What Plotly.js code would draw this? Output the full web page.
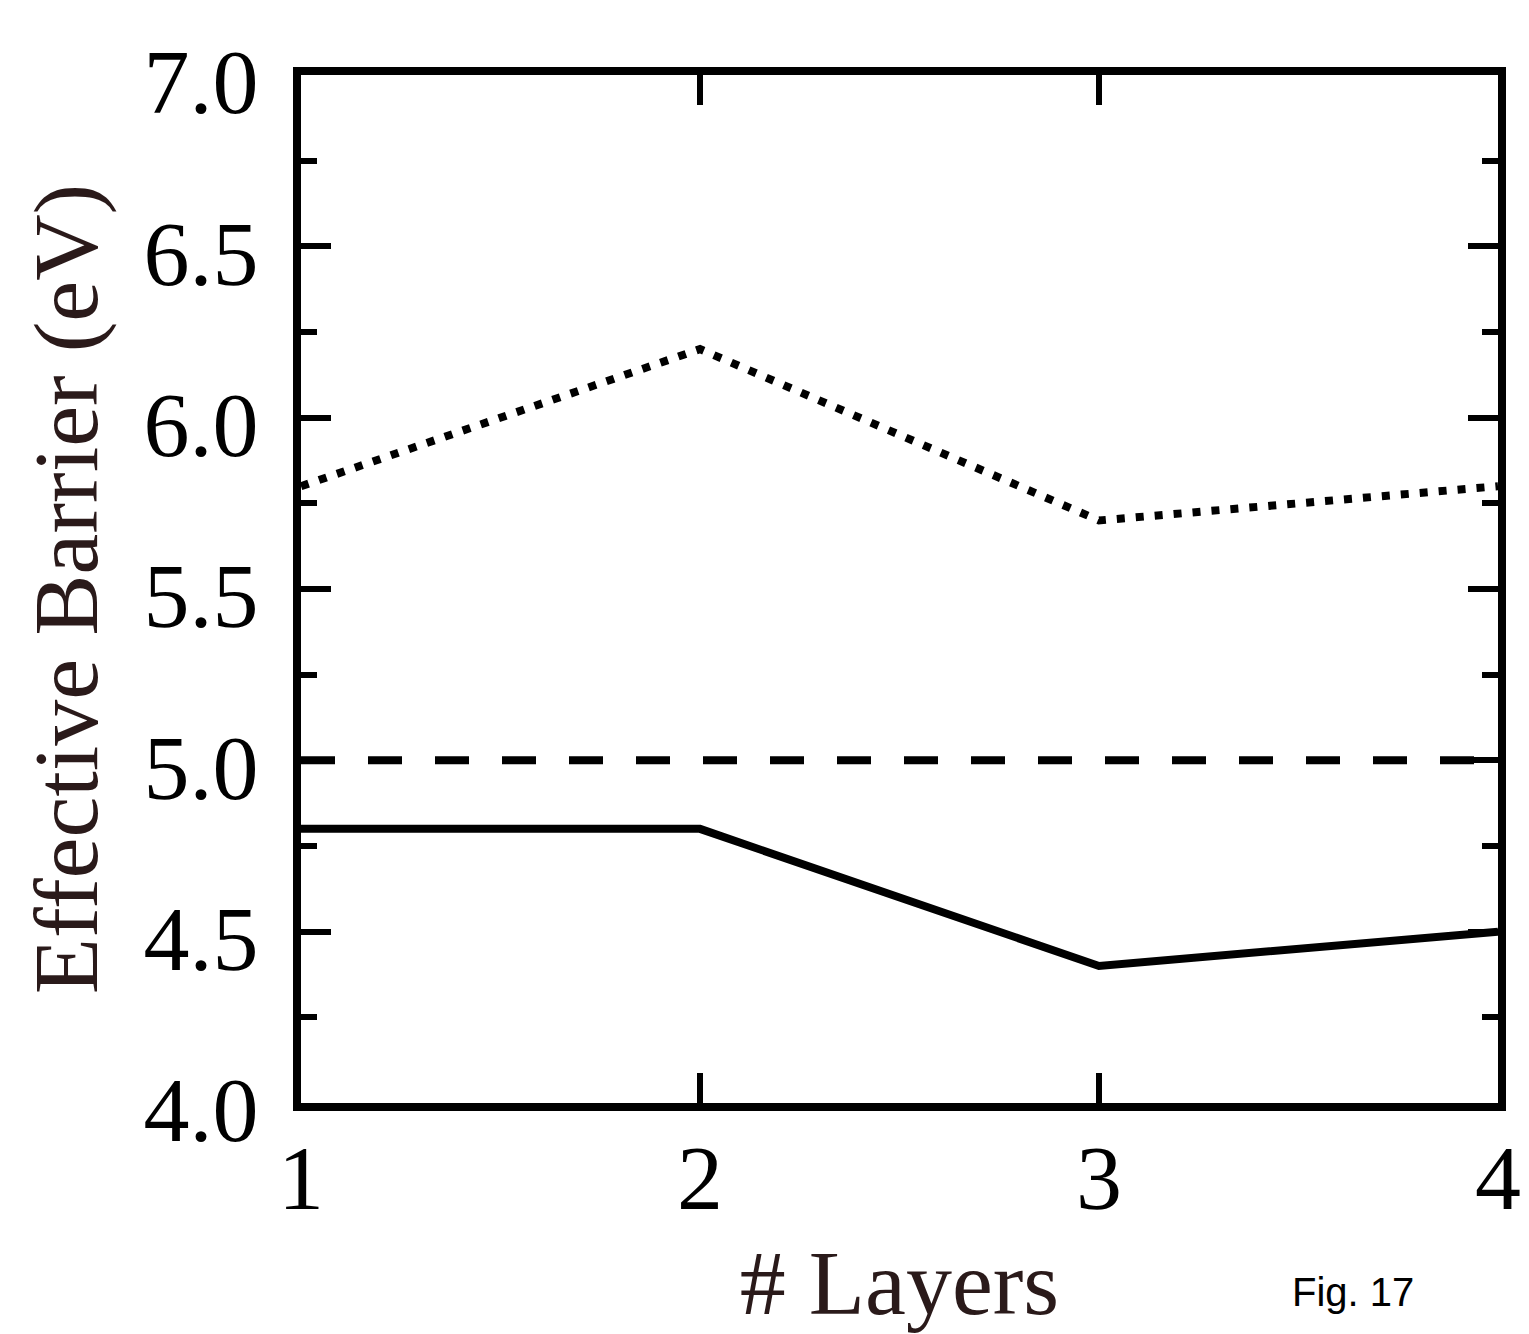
<!DOCTYPE html>
<html>
<head>
<meta charset="utf-8">
<script src="https://cdn.plot.ly/plotly-3.0.1.min.js"></script>
<style>html,body{margin:0;padding:0;background:#fff;}#chart{width:1529px;height:1334px;}</style>
</head>
<body>
<div id="chart"></div>
<script>
const layers = [1, 2, 3, 4];
const dottedValues = [5.8, 6.2, 5.7, 5.8];
const dashedValues = [5.0, 5.0, 5.0, 5.0];
const solidValues = [4.8, 4.8, 4.4, 4.5];
const yTickVals = [4.0, 4.5, 5.0, 5.5, 6.0, 6.5, 7.0];
const yTickText = ['4.0', '4.5', '5.0', '5.5', '6.0', '6.5', '7.0'];
const xTickVals = [1, 2, 3, 4];

const traces = [
  {x: layers, y: dottedValues, mode: 'lines', line: {color: '#000', width: 8, dash: '8px,11px'}, hoverinfo: 'skip'},
  {x: layers, y: dashedValues, mode: 'lines', line: {color: '#000', width: 8, dash: '34px,33px'}, hoverinfo: 'skip'},
  {x: layers, y: solidValues, mode: 'lines', line: {color: '#000', width: 8}, hoverinfo: 'skip'}
];

const serif = 'Liberation Serif, Times New Roman, serif';
const tickFont = {family: serif, size: 92, color: '#000'};
const M = {l: 301, r: 31, t: 75, b: 231};

const layout = {
  width: 1529, height: 1334,
  showlegend: false,
  paper_bgcolor: '#fff', plot_bgcolor: '#fff',
  margin: {l: M.l, r: M.r, t: M.t, b: M.b, pad: 0},
  xaxis: {
    range: [1, 4], tickvals: xTickVals, ticktext: xTickVals.map(String),
    ticks: 'inside', ticklen: 30, tickwidth: 6, tickcolor: '#000',
    showline: true, linewidth: 8, linecolor: '#000', mirror: 'ticks',
    showgrid: false, zeroline: false, tickfont: tickFont, ticklabelstandoff: -12,
    title: {text: '# Layers', font: {family: serif, size: 92, color: '#2a1a1a'}, standoff: 26}
  },
  yaxis: {
    range: [4, 7], tickvals: yTickVals, ticktext: yTickText,
    ticks: 'inside', ticklen: 30, tickwidth: 6, tickcolor: '#000',
    minor: {dtick: 0.25, ticks: 'inside', ticklen: 16, tickwidth: 6, tickcolor: '#000', showgrid: false},
    showline: true, linewidth: 8, linecolor: '#000', mirror: 'ticks',
    showgrid: false, zeroline: false, tickfont: tickFont, ticklabelstandoff: 16, ticklabelshift: 6,
    title: {text: 'Effective Barrier (eV)', font: {family: serif, size: 92, color: '#2a1a1a'}, standoff: 18}
  },
  annotations: [
    {text: 'Fig. 17', xref: 'paper', yref: 'paper', x: 0, y: 0, xanchor: 'left', yanchor: 'middle',
     showarrow: false, font: {family: 'Liberation Sans, Arial, sans-serif', size: 40, color: '#000'}}
  ]
};
// place annotation using page pixel position converted to paper coords
(function(){
  const plotW = 1529 - M.l - M.r, plotH = 1334 - M.t - M.b;
  layout.annotations[0].x = (1290 - M.l) / plotW;
  layout.annotations[0].y = (1334 - M.b - 1292) / plotH;
})();

Plotly.newPlot('chart', traces, layout, {displayModeBar: false, staticPlot: true});
</script>
</body>
</html>
